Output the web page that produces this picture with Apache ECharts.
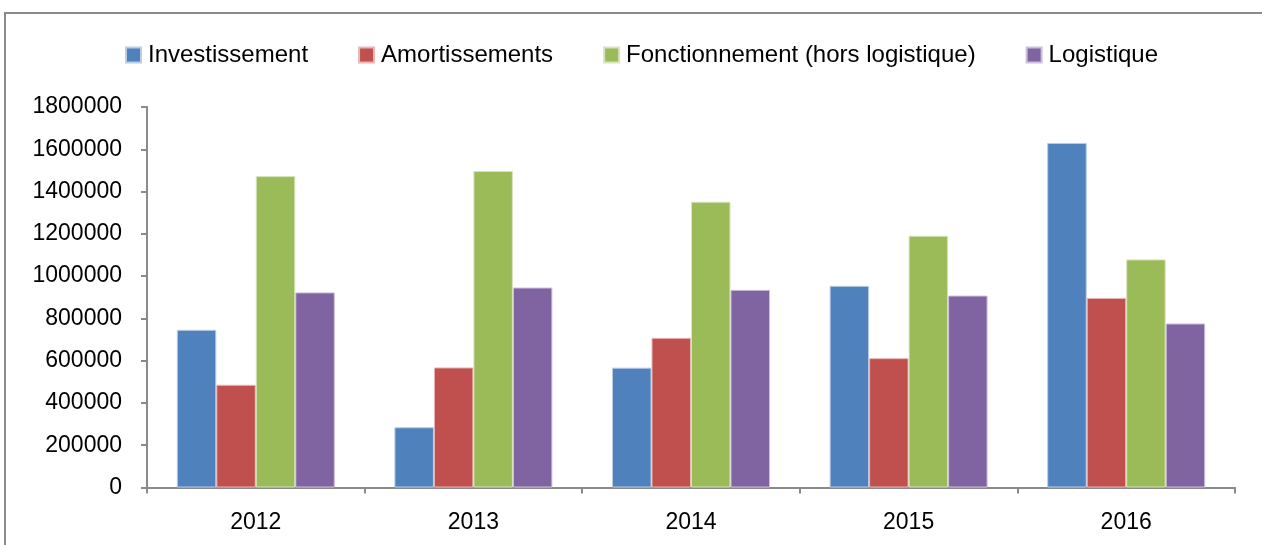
<!DOCTYPE html>
<html>
<head>
<meta charset="utf-8">
<script src="https://cdn.jsdelivr.net/npm/echarts@6/dist/echarts.min.js"></script>
<style>
  html, body { margin: 0; padding: 0; background: #fff; }
  #wrap { position: relative; width: 1262px; height: 545px; overflow: hidden; }
  #frame { position: absolute; left: 4px; top: 12px; width: 1400px; height: 700px;
           border-top: 2px solid #8a8a8a; border-left: 2px solid #8a8a8a; box-sizing: border-box; }
  #chart { position: absolute; left: 0; top: 0; width: 1262px; height: 545px; }
</style>
</head>
<body>
<div id="wrap">
  <div id="frame"></div>
  <div id="chart"></div>
</div>
<script>
const categories = ['2012', '2013', '2014', '2015', '2016'];
const seriesNames = ['Investissement', 'Amortissements', 'Fonctionnement (hors logistique)', 'Logistique'];
const investissement = [746000, 285000, 567000, 954000, 1630000];
const amortissements = [486000, 568000, 708000, 612000, 897000];
const fonctionnement = [1473000, 1497000, 1352000, 1191000, 1079000];
const logistique = [923000, 946000, 935000, 908000, 776000];
const colors = ['#4F81BD', '#C0504D', '#9BBB59', '#8064A2'];
const borders = ['#B9CDE5', '#E6B9B8', '#D7E4BD', '#CCC1DA'];

const allValues = [investissement, amortissements, fonctionnement, logistique];
const font = '"Liberation Sans", Arial, sans-serif';

const chart = echarts.init(document.getElementById('chart'), null, { renderer: 'canvas' });
chart.setOption({
  animation: false,
  backgroundColor: 'transparent',
  textStyle: { fontFamily: font },
  legend: {
    top: 43,
    left: 125,
    padding: 0,
    itemWidth: 15,
    itemHeight: 15,
    itemGap: 50,
    icon: 'rect',
    textStyle: { fontSize: 24, color: '#000', fontFamily: font, padding: [0, 0, 0, 2] },
    data: seriesNames
  },
  grid: { left: 147, right: 27, top: 107, bottom: 57.5, containLabel: false },
  xAxis: {
    type: 'category',
    data: categories,
    boundaryGap: true,
    axisLine: { lineStyle: { color: '#8a8a8a', width: 2 } },
    axisTick: { show: true, length: 6, lineStyle: { color: '#8a8a8a', width: 2 } },
    axisLabel: { fontSize: 23, color: '#000', margin: 24, fontFamily: font }
  },
  yAxis: {
    type: 'value',
    min: 0,
    max: 1800000,
    interval: 200000,
    axisLine: { show: true, lineStyle: { color: '#8a8a8a', width: 2 } },
    axisTick: { show: true, length: 6, lineStyle: { color: '#8a8a8a', width: 2 } },
    splitLine: { show: false },
    axisLabel: { fontSize: 23, color: '#000', margin: 25, fontFamily: font,
                 formatter: function (v) { return String(v); } }
  },
  series: seriesNames.map((name, i) => ({
    name: name,
    type: 'bar',
    data: allValues[i],
    barGap: '0%',
    barCategoryGap: '27.4%',
    itemStyle: { color: colors[i], borderColor: borders[i], borderWidth: 1 }
  }))
});
</script>
</body>
</html>
